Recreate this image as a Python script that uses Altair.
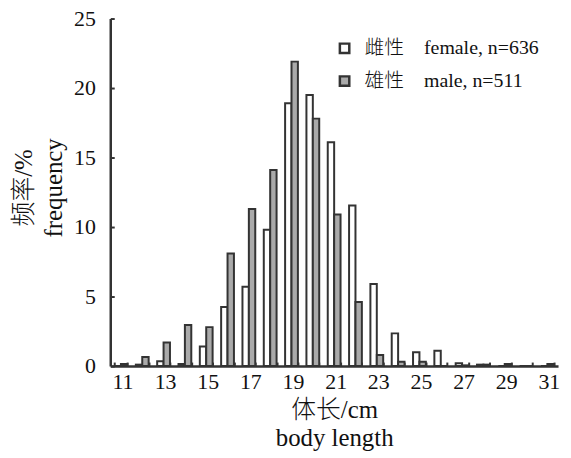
import altair as alt
import pandas as pd

# ---- data ----
lengths = list(range(11, 32))
female = [0, 0.1, 0.35, 0.15, 1.4, 4.25, 5.7, 9.8, 18.9, 19.5, 16.1, 11.55,
          5.9, 2.35, 1.0, 1.1, 0.2, 0.1, 0, 0, 0]
male = [0.15, 0.65, 1.7, 2.95, 2.8, 8.1, 11.3, 14.1, 21.9, 17.8, 10.9, 4.6,
        0.8, 0.3, 0.3, 0, 0.05, 0.1, 0.15, 0, 0.15]
NB = "\u00a0"
series_labels = ["雌性" + NB * 4 + "female, n=636", "雄性" + NB * 4 + "male, n=511"]
x_label_values = [11, 13, 15, 17, 19, 21, 23, 25, 27, 29, 31]
y_tick_values = [0, 5, 10, 15, 20, 25]
x_title = ["体长/cm", "body length"]
y_title = ["频率/%", "frequency"]

rows = []
for i, L in enumerate(lengths):
    rows.append({"length": L, "sex": series_labels[0], "freq": female[i]})
    rows.append({"length": L, "sex": series_labels[1], "freq": male[i]})
df = pd.DataFrame(rows)

FONT = "Liberation Serif, Noto Sans CJK SC, serif"
DARK = "#333333"

base = alt.Chart(df)

bars = base.mark_bar(stroke=DARK, strokeWidth=2).encode(
    x=alt.X(
        "length:O",
        scale=alt.Scale(paddingInner=0.4, paddingOuter=0.2),
        axis=alt.Axis(
            values=x_label_values, ticks=False, labelAngle=0, orient="bottom",
            domainColor=DARK, domainWidth=2.5, labelPadding=6, labelOffset=2,
            title=x_title, titleY=32, titleBaseline="top", titleLineHeight=28,
        ),
    ),
    xOffset=alt.XOffset("sex:N", sort=series_labels,
                        scale=alt.Scale(domain=series_labels)),
    y=alt.Y(
        "freq:Q",
        scale=alt.Scale(domain=[0, 25], nice=False),
        axis=alt.Axis(
            values=y_tick_values, ticks=False, grid=False, orient="left",
            domainColor=DARK, domainWidth=2.5, labelPadding=15,
            title=y_title, titleX=-87, titleY=170, titleAlign="center",
            titleBaseline="middle", titleLineHeight=30, titleAngle=270,
        ),
    ),
    fill=alt.Fill(
        "sex:N", sort=series_labels,
        scale=alt.Scale(domain=series_labels, range=["#ffffff", "#aaaaaa"]),
        legend=alt.Legend(
            title=None, orient="none", legendX=226, legendY=20, padding=0,
            symbolType="square", symbolSize=90, symbolStrokeWidth=2.5,
            symbolStrokeColor=DARK, labelFont=FONT, labelFontSize=20,
            labelFontWeight=300, labelColor="#111111", labelOffset=10,
            rowPadding=13, labelLimit=400,
        ),
    ),
)

tick_layer = base.mark_bar(opacity=0).encode(
    x=alt.X("length:O", axis=alt.Axis(
        labels=False, domain=False, ticks=True, tickSize=4, offset=-4,
        orient="bottom", tickBand="extent", tickColor=DARK, tickWidth=2,
        title=None)),
    y=alt.Y("freq:Q", axis=alt.Axis(
        values=y_tick_values, labels=False, domain=False, ticks=True,
        tickSize=4, offset=-4, orient="left", tickColor=DARK, tickWidth=2,
        grid=False, title=None)),
)

chart = alt.layer(bars, tick_layer).resolve_axis(
    x="independent", y="independent"
).properties(
    width=451, height=350,
    autosize=alt.AutoSizeParams(type="none"),
    padding={"left": 103, "top": 9, "right": 5, "bottom": 90},
).configure_view(stroke=None).configure_axis(
    labelFont=FONT, labelFontSize=22, labelColor="#111111",
    titleFont=FONT, titleFontSize=25, titleColor="#111111",
    titleFontWeight=300, grid=False,
)

chart.save("out.html", embed_options={"renderer": "svg", "actions": False})
